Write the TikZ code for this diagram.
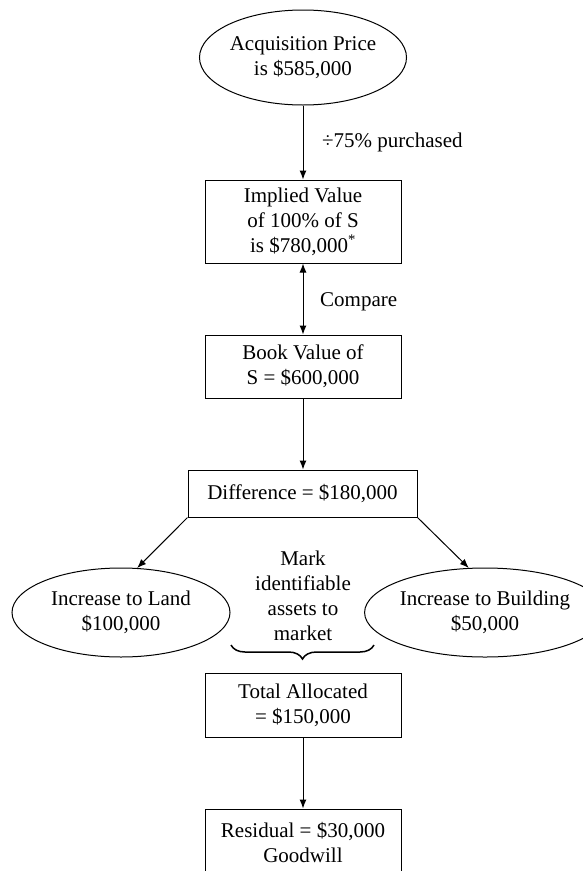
\documentclass[tikz,border=0pt]{standalone}
\usepackage{fontspec}
\setmainfont{Liberation Serif}
\usetikzlibrary{shapes.geometric,arrows.meta,decorations.pathreplacing}
\begin{document}
\begin{tikzpicture}[x=1pt,y=-1pt,
  every node/.style={font=\fontsize{21}{25}\selectfont, inner sep=0pt, align=center},
  box/.style={draw, line width=1pt, rectangle},
  oval/.style={draw, line width=1pt, ellipse},
  arr/.style={line width=1pt, -{Latex[length=9pt,width=7pt]}},
  darr/.style={line width=1pt, {Latex[length=9pt,width=7pt]}-{Latex[length=9pt,width=7pt]}},
  lbl/.style={anchor=base west}]
\useasboundingbox (0,0) rectangle (583,871);
\clip (0,0) rectangle (583,871);
\node[oval, minimum width=207pt, minimum height=95pt] (acq) at (303,57.5) {Acquisition Price\\is \$585,000};
\node[box, minimum width=196pt, minimum height=83pt] (implied) at (303,221.5) {Implied Value\\of 100\% of S\\is \$780,000\textsuperscript{*}};
\node[box, minimum width=196pt, minimum height=63pt] (book) at (303,366.5) {Book Value of\\S = \$600,000};
\node[box, minimum width=229pt, minimum height=47pt] (diff) at (302.5,493.5) {Difference = \$180,000};
\node[oval, minimum width=218pt, minimum height=89pt] (land) at (121,612.5) {Increase to Land\\\$100,000};
\node[oval, minimum width=220pt, minimum height=89pt] (bldg) at (485,612.5) {Increase to Building\\\$50,000};
\node[anchor=north] (mark) at (303,551) {Mark\\identifiable\\assets to\\market};
\node[box, minimum width=196pt, minimum height=64pt] (total) at (303,705) {Total Allocated\\= \$150,000};
\node[box, minimum width=196pt, minimum height=66pt] (resid) at (303,842) {Residual = \$30,000\\Goodwill};
\node[lbl] (lab1) at (322,147) {÷75\% purchased};
\node[lbl] (lab2) at (320,306) {Compare};
\draw[arr] (acq.south) -- (acq.south |- implied.north);
\draw[darr] (implied.south) -- (implied.south |- book.north);
\draw[arr] (book.south) -- (book.south |- diff.north);
\draw[arr] (diff.south west) -- (land.70);
\draw[arr] (diff.south east) -- (bldg.110);
\coordinate (braceR) at (374,645);
\coordinate (braceL) at (231,645);
\draw[decorate, decoration={brace, amplitude=14pt}, line width=1.5pt] (braceR) -- (braceL);
\draw[arr] (total.south) -- (total.south |- resid.north);
\end{tikzpicture}
\end{document}
